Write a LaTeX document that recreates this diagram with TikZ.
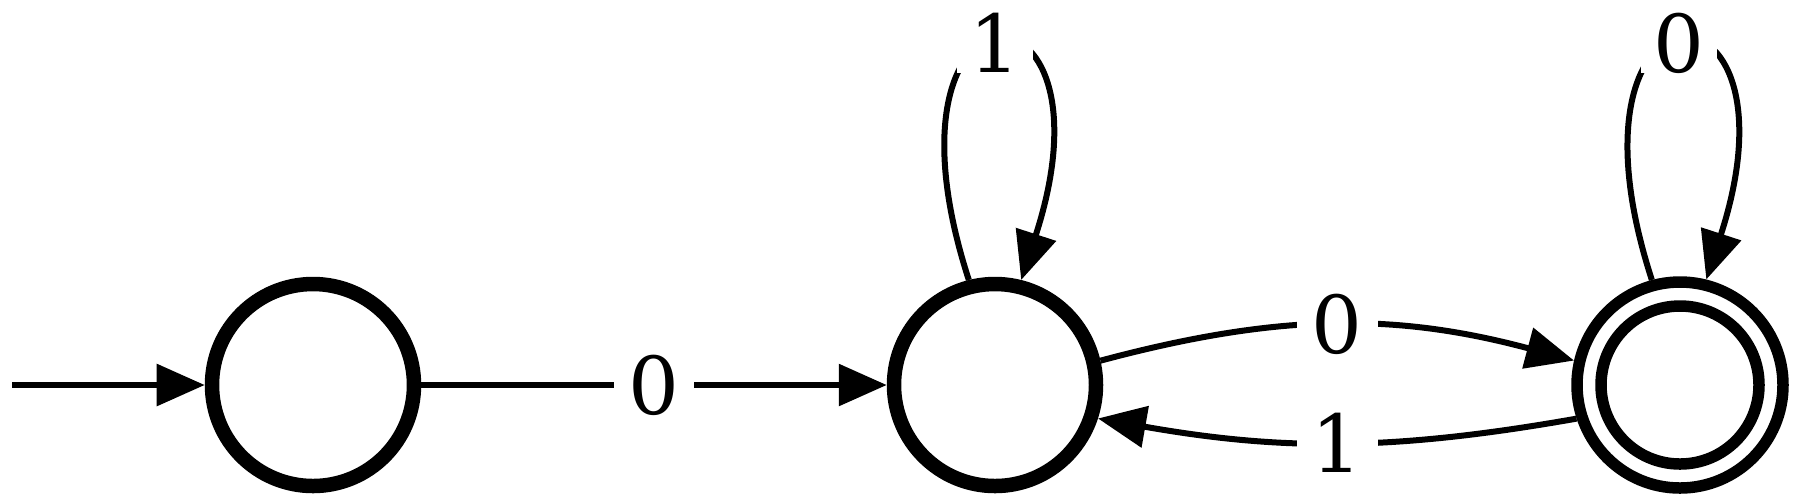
\documentclass[tikz,border=0pt]{standalone}
\usepackage{fontspec}
\setmainfont{DejaVu Serif}
\usetikzlibrary{arrows.meta}
\begin{document}
\begin{tikzpicture}[x=0.2pt,y=0.2pt,
  state/.style={circle,draw,line width=2.9pt,minimum size=40.4pt,inner sep=0pt},
  ring/.style={circle,draw,line width=2.3pt,minimum size=31.6pt,inner sep=0pt},
  edge/.style={line width=1.2pt,-{Triangle[length=9.6pt,width=8.2pt]}},
  lbl/.style={fill=white,inner xsep=3pt,inner ysep=1pt,font=\fontsize{16}{18}\selectfont},
  looplbl/.style={lbl,inner xsep=2.5pt,inner ysep=0pt}]
\useasboundingbox (0,0) rectangle (1800,499);
\node[state] (A) at (313,114) {};
\node[state] (B) at (995,114) {};
\node[state,line width=2.3pt,minimum size=41.2pt] (C) at (1680,114) {};
\node[ring] (Ci) at (1680,114) {};
\coordinate (S) at (12,114);
\draw[edge] (S) -- (A);
\draw[edge] (A) -- node[lbl] {0} (B);
\draw[edge] (B.13) to[out=15,in=165] node[lbl] {0} (C.167);
\draw[edge] (C.198) to[out=190,in=-10] node[lbl] {1} (B.-18);
\draw[edge] (B.104) .. controls +(108:332) and +(72:332) .. (B.76) node[pos=0.5,looplbl] {1};
\draw[edge] (C.105) .. controls +(108:332) and +(72:332) .. (C.76) node[pos=0.5,looplbl] {0};
\end{tikzpicture}
\end{document}
